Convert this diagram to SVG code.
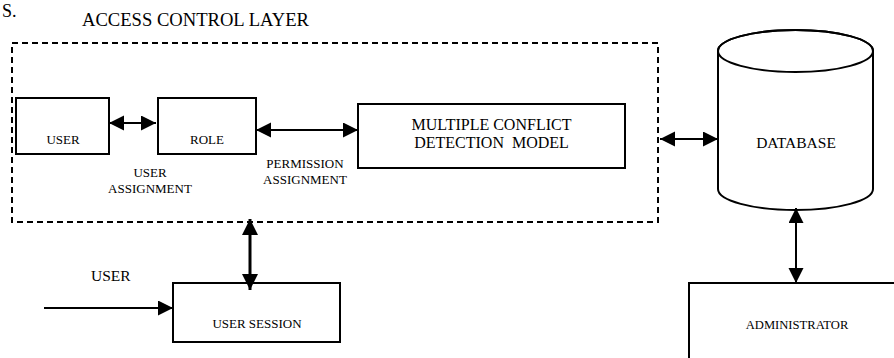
<svg xmlns="http://www.w3.org/2000/svg" width="894" height="358" viewBox="0 0 894 358">
<style>
text{font-family:"Liberation Serif","Times New Roman",serif;fill:#000}
.box{fill:#fff;stroke:#000;stroke-width:2}
.ln{stroke:#000;stroke-width:2;fill:none}
.thick{stroke:#000;stroke-width:3;fill:none}
</style>
<defs>
<marker id="ah" markerUnits="userSpaceOnUse" markerWidth="16" markerHeight="16" refX="15" refY="7.5" orient="auto-start-reverse" viewBox="0 0 16 16">
<path d="M0,0 L15,7.5 L0,15 z" fill="#000"/>
</marker>
<marker id="ahb" markerUnits="userSpaceOnUse" markerWidth="18" markerHeight="18" refX="16" refY="8" orient="auto-start-reverse" viewBox="0 0 18 18">
<path d="M0,0 L16,8 L0,16 z" fill="#000"/>
</marker>
</defs>
<rect width="894" height="358" fill="#fff"/>
<text x="2" y="17" font-size="18">S.</text>
<text x="82" y="26" font-size="18.6">ACCESS CONTROL LAYER</text>
<g id="layer"><rect x="12" y="43" width="646" height="179" fill="none" stroke="#000" stroke-width="2" stroke-dasharray="6,4"/></g>
<g id="user"><rect class="box" x="16" y="98" width="93" height="56"/><text x="63" y="144" font-size="13" text-anchor="middle">USER</text></g>
<g id="role"><rect class="box" x="158" y="98" width="98" height="56"/><text x="207" y="144" font-size="13" text-anchor="middle">ROLE</text></g>
<g id="mcdm"><rect class="box" x="358" y="104" width="267" height="64"/><text x="491.5" y="130" font-size="16" text-anchor="middle">MULTIPLE CONFLICT</text><text x="491.5" y="148" font-size="16" text-anchor="middle" xml:space="preserve">DETECTION  MODEL</text></g>
<g id="database"><path class="box" d="M718,51 L718,189 A77.5,21 0 0 0 873,189 L873,51 A77.5,21 0 0 0 718,51 Z"/><ellipse cx="795.5" cy="51" rx="77.5" ry="21" fill="none" stroke="#000" stroke-width="2"/><text x="796" y="148" font-size="15.5" text-anchor="middle">DATABASE</text></g>
<g id="admin"><rect class="box" x="689" y="283" width="215" height="90"/><text x="797" y="329" font-size="12.6" text-anchor="middle">ADMINISTRATOR</text></g>
<g id="session"><rect class="box" x="173" y="283" width="167" height="59"/><text x="257" y="328" font-size="13" text-anchor="middle">USER SESSION</text></g>
<g id="labels">
<text x="150" y="177" font-size="13" text-anchor="middle">USER</text>
<text x="150" y="193" font-size="13" text-anchor="middle">ASSIGNMENT</text>
<text x="305" y="168" font-size="13" text-anchor="middle">PERMISSION</text>
<text x="305" y="184" font-size="13" text-anchor="middle">ASSIGNMENT</text>
<text x="91" y="281" font-size="15.5">USER</text>
</g>
<g id="connectors">
<line class="ln" x1="109" y1="123" x2="156" y2="123" marker-start="url(#ah)" marker-end="url(#ah)"/>
<line class="ln" x1="256" y1="130" x2="358" y2="130" marker-start="url(#ah)" marker-end="url(#ah)"/>
<line class="ln" x1="660" y1="139" x2="718" y2="139" marker-start="url(#ah)" marker-end="url(#ah)"/>
<line class="ln" x1="796" y1="208" x2="796" y2="283" marker-start="url(#ah)" marker-end="url(#ah)"/>
<line class="thick" x1="250" y1="219" x2="250" y2="290" marker-start="url(#ahb)" marker-end="url(#ahb)"/>
<line class="ln" x1="44" y1="308" x2="173" y2="308" marker-end="url(#ah)"/>
</g>
</svg>
